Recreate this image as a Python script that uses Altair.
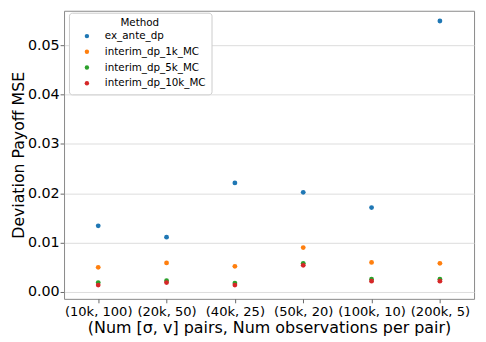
import altair as alt
import pandas as pd

configs = ["(10k, 100)", "(20k, 50)", "(40k, 25)", "(50k, 20)", "(100k, 10)", "(200k, 5)"]
methods = ["ex_ante_dp", "interim_dp_1k_MC", "interim_dp_5k_MC", "interim_dp_10k_MC"]
colors = ["#1f77b4", "#ff7f0e", "#2ca02c", "#d62728"]

ex_ante_dp = [0.0134, 0.0111, 0.0221, 0.0202, 0.0171, 0.0549]
interim_dp_1k_MC = [0.0050, 0.0059, 0.0052, 0.0090, 0.0060, 0.0058]
interim_dp_5k_MC = [0.0019, 0.0023, 0.0018, 0.0058, 0.0026, 0.0026]
interim_dp_10k_MC = [0.0014, 0.0019, 0.0014, 0.0054, 0.0022, 0.0022]

series = [ex_ante_dp, interim_dp_1k_MC, interim_dp_5k_MC, interim_dp_10k_MC]
rows = []
for m, vals in zip(methods, series):
    for c, v in zip(configs, vals):
        rows.append({"config": c, "Method": m, "mse": v})
df = pd.DataFrame(rows)

FONT = "DejaVu Sans"

chart = alt.Chart(df).mark_circle(size=24, opacity=1).encode(
    x=alt.X("config:N", sort=configs,
            scale=alt.Scale(type="point", padding=0.5),
            axis=alt.Axis(title="(Num [σ, v] pairs, Num observations per pair)",
                          labelAngle=0, labelFontSize=13.3, titleFontSize=16.2,
                          labelColor="black", titleColor="black", titleFontWeight="normal",
                          labelFont=FONT, titleFont=FONT, grid=False, domain=False,
                          tickColor="#666", tickSize=4, labelPadding=2, titlePadding=2)),
    y=alt.Y("mse:Q",
            scale=alt.Scale(domain=[-0.00139, 0.05697], nice=False, zero=False),
            axis=alt.Axis(title="Deviation Payoff MSE", values=[0, 0.01, 0.02, 0.03, 0.04, 0.05],
                          format=".2f", labelFontSize=14.5, titleFontSize=16,
                          labelColor="black", titleColor="black", titleFontWeight="normal",
                          labelFont=FONT, titleFont=FONT, grid=True, gridColor="#dcdcdc",
                          domain=False, tickColor="#666", tickSize=4, labelPadding=1,
                          titlePadding=1)),
    color=alt.Color("Method:N", sort=methods,
                    scale=alt.Scale(domain=methods, range=colors),
                    legend=alt.Legend(title="Method", orient="none", legendX=5, legendY=2,
                                      titleFontSize=10.5, labelFontSize=10.5,
                                      titleFont=FONT, labelFont=FONT,
                                      titleFontWeight="normal", titleColor="black",
                                      labelColor="black", titleAnchor="middle",
                                      titleAlign="center",
                                      strokeColor="#cccccc", fillColor="white",
                                      cornerRadius=3, padding=5, symbolOffset=8,
                                      rowPadding=5, labelOffset=13, titlePadding=3,
                                      symbolSize=20, symbolType="circle")),
).properties(
    width=417, height=293,
    autosize=alt.AutoSizeParams(type="none"),
    padding={"left": 57, "top": 0, "right": 4, "bottom": 38},
).configure_view(stroke="#888888", strokeWidth=1)

chart.save("out.html", embed_options={"renderer": "svg", "actions": False})
